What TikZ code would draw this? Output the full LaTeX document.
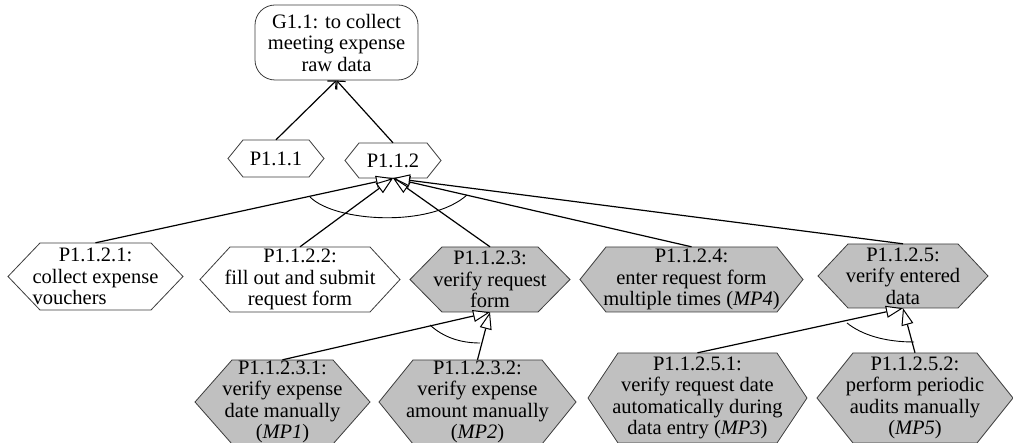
\documentclass[tikz,border=0pt]{standalone}
\usepackage{fontspec}
\setmainfont{Liberation Serif}
\usepackage{calc}
\usetikzlibrary{arrows.meta}
\definecolor{hexgray}{RGB}{192,192,192}
\definecolor{bordergray}{RGB}{60,60,60}
\tikzset{
  txt/.style={align=center, inner sep=0pt, font=\fontsize{20.5}{21.5}\selectfont},
  hexborder/.style={draw=bordergray, line width=0.8pt, line join=miter},
  plainhex/.style={fill=white},
  grayhex/.style={fill=hexgray},
  goalbox/.style={txt, draw=bordergray, line width=0.8pt, rounded corners=20pt, minimum width=163pt, minimum height=75pt},
  contrib/.style={draw, line width=1.2pt, -{Straight Barb[length=6pt,width=12pt]}},
  andedge/.style={draw, line width=1.2pt, -{Triangle[fill=white,length=17pt,width=12pt,line width=1pt]}},
  andarc/.style={draw, line width=0.9pt},
}
% name, x, y, halfwidth, halfheight, slant, style, text
\newcommand\hexnode[8]{%
  \draw[hexborder,#7] ({#2-#4},{#3}) -- ({#2-#4+#6},{#3-#5}) -- ({#2+#4-#6},{#3-#5}) -- ({#2+#4},{#3}) -- ({#2+#4-#6},{#3+#5}) -- ({#2-#4+#6},{#3+#5}) -- cycle;
  \node[txt, minimum width={2*#4}, minimum height={2*#5}] (#1) at (#2,#3) {#8};
}
\begin{document}
\begin{tikzpicture}[x=1pt,y=-1pt]
\useasboundingbox (0,0) rectangle (1013,443);

% goal
\node[goalbox] (g11) at (336.5,42.5) {G1.1: to collect\\meeting expense\\raw data};

% level 1
\hexnode{p111}{276}{158.5}{48}{18.5}{15}{plainhex}{P1.1.1}
\hexnode{p112}{393}{160.5}{48}{17.5}{14}{plainhex}{P1.1.2}

% level 2
\hexnode{p1121}{95.5}{276.5}{87.5}{33.5}{32}{plainhex}{P1.1.2.1:\\collect expense\\\makebox[\widthof{collect expense}][l]{vouchers}}
\hexnode{p1122}{300}{279.5}{100}{32.5}{30}{plainhex}{P1.1.2.2:\\fill out and submit\\request form}
\hexnode{p1123}{490}{279.5}{80}{32.5}{32}{grayhex}{P1.1.2.3:\\verify request\\form}
\hexnode{p1124}{691.5}{279.5}{111.5}{32.5}{26}{grayhex}{P1.1.2.4:\\enter request form\\multiple times (\textit{MP4})}
\hexnode{p1125}{903}{276}{85}{32}{30}{grayhex}{P1.1.2.5:\\verify entered\\data}

% level 3
\hexnode{p11231}{282.5}{402}{87.5}{42}{37}{grayhex}{P1.1.2.3.1:\\verify expense\\date manually\\(\textit{MP1})}
\hexnode{p11232}{477.5}{402}{98.5}{42}{34}{grayhex}{P1.1.2.3.2:\\verify expense\\amount manually\\(\textit{MP2})}
\hexnode{p11251}{697.5}{398}{109.5}{45}{30}{grayhex}{P1.1.2.5.1:\\verify request date\\automatically during\\data entry (\textit{MP3})}
\hexnode{p11252}{915}{398}{98}{45}{36}{grayhex}{P1.1.2.5.2:\\perform periodic\\audits manually\\(\textit{MP5})}

% contribution links
\draw[contrib] (p111.north) -- (g11.south);
\draw[contrib] (p112.north) -- (g11.south);

% and-decomposition links
\draw[andedge] (p1121.north) -- (p112.south);
\draw[andedge] (p1122.north) -- (p112.south);
\draw[andedge] (p1123.north) -- (p112.south);
\draw[andedge] (p1124.north) -- (p112.south);
\draw[andedge] (p1125.north) -- (p112.south);

\draw[andedge] (p11231.north) -- (p1123.south);
\draw[andedge] (p11232.north) -- (p1123.south);

\draw[andedge] (p11251.north) -- (p1125.south);
\draw[andedge] (p11252.north) -- (p1125.south);

% and arcs
\draw[andarc] (310,197) .. controls (335,222) and (430,228) .. (467,195);
\draw[andarc] (430,325) .. controls (443,337) and (460,343) .. (480,343);
\draw[andarc] (847,323) .. controls (862,335) and (885,342) .. (914,342);
\end{tikzpicture}
\end{document}
